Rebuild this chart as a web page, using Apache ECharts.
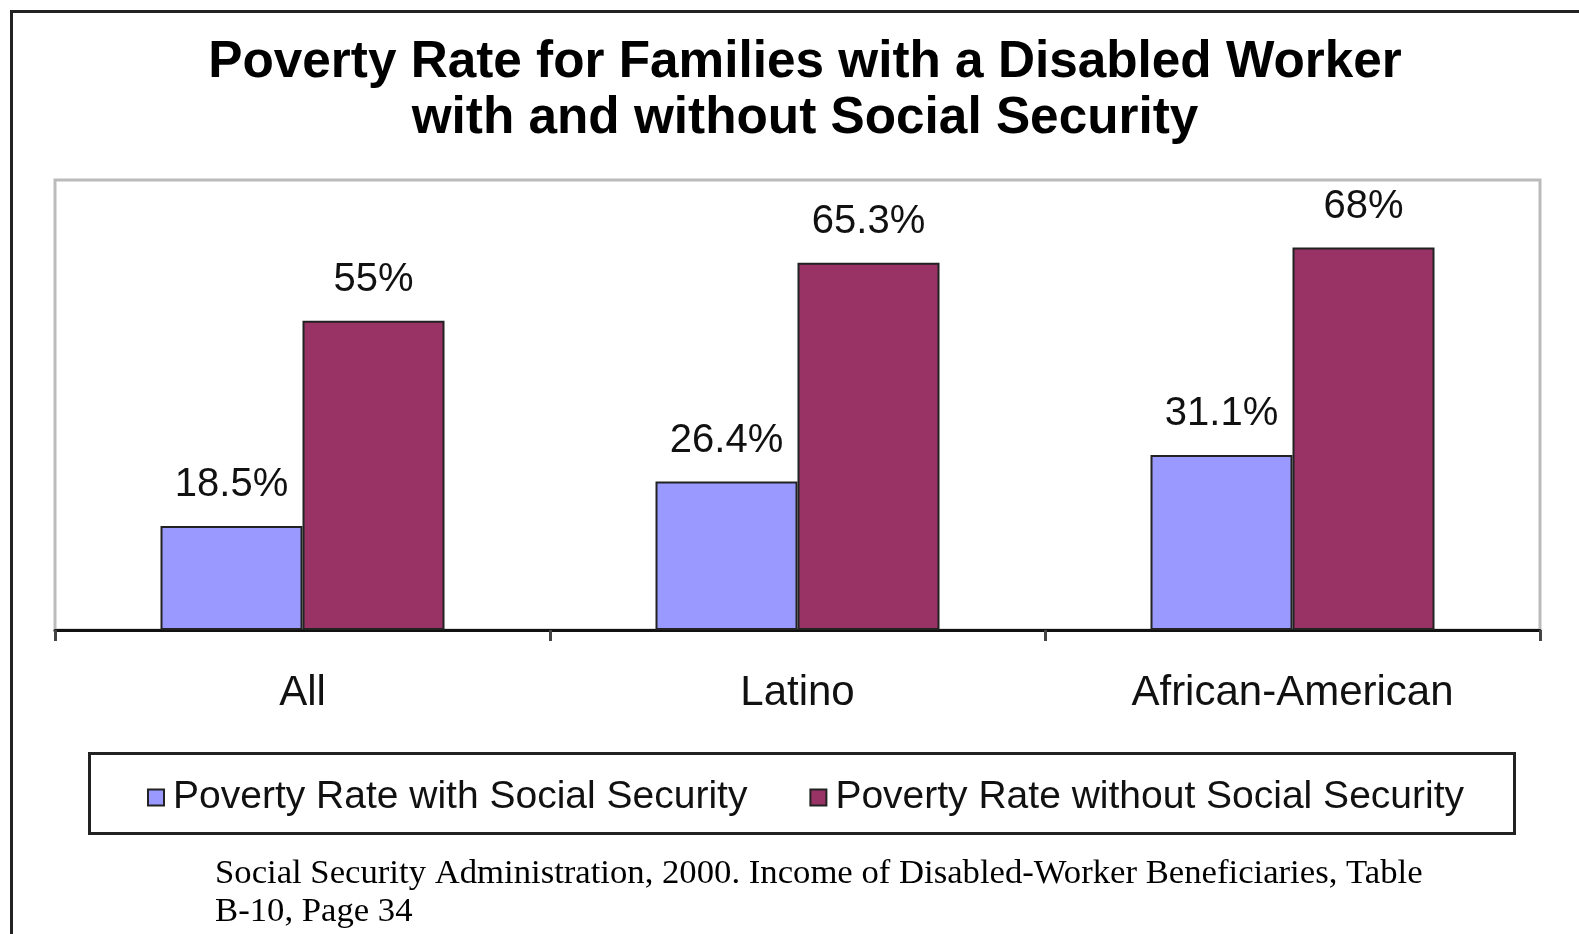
<!DOCTYPE html>
<html><head><meta charset="utf-8">
<script src="https://cdn.jsdelivr.net/npm/echarts@6/dist/echarts.min.js"></script>
<style>html,body{margin:0;padding:0;background:#fff}#c{width:1579px;height:934px}</style>
</head><body><div id="c"></div>
<script>
const categories = ['All', 'Latino', 'African-American'];
const withSS = [18.5, 26.4, 31.1];
const withoutSS = [55, 65.3, 68];
const seriesNames = ['Poverty Rate with Social Security', 'Poverty Rate without Social Security'];
const titleText = 'Poverty Rate for Families with a Disabled Worker\nwith and without Social Security';
const sourceText = 'Social Security Administration, 2000. Income of Disabled-Worker Beneficiaries, Table\nB-10, Page 34';

const chart = echarts.init(document.getElementById('c'));
const font = "'Liberation Sans', Arial, sans-serif";
const labelCfg = {show: true, position: 'top', distance: 21, formatter: '{c}%', fontSize: 40, color: '#111', fontFamily: font};
chart.setOption({
  animation: false,
  backgroundColor: '#fff',
  title: [{
    text: titleText, left: 805, top: 35, padding: 0, textAlign: 'center',
    textStyle: {fontSize: 51.3, fontWeight: 'bold', fontFamily: font, color: '#000', lineHeight: 56}
  }, {
    text: sourceText, left: 215, top: 855, padding: 0,
    textStyle: {fontSize: 34.7, fontWeight: 'normal', fontFamily: "'Liberation Serif', 'Times New Roman', serif", color: '#000', lineHeight: 38}
  }],
  graphic: [
    {type: 'rect', shape: {x: 11.5, y: 11.5, width: 1700, height: 1000}, style: {fill: null, stroke: '#222', lineWidth: 3}, z: -1},
    {type: 'rect', shape: {x: 89.5, y: 753.5, width: 1425, height: 80}, style: {fill: '#fff', stroke: '#222', lineWidth: 3}, z: -1}
  ],
  legend: {
    data: seriesNames, left: 142, top: 773, itemWidth: 16, itemHeight: 16, itemGap: 62,
    textStyle: {fontSize: 39, fontFamily: font, color: '#111', padding: [0, 0, 0, 4]},
    icon: 'rect'
  },
  grid: {left: 55, right: 39, top: 180, bottom: 304, show: true, borderColor: '#bbb', borderWidth: 3, backgroundColor: '#fff'},
  xAxis: {
    type: 'category', data: categories,
    axisLine: {lineStyle: {color: '#111', width: 3}},
    axisTick: {show: true, length: 11, lineStyle: {color: '#444', width: 3}},
    axisLabel: {fontSize: 42, fontFamily: font, color: '#111', margin: 42}
  },
  yAxis: {type: 'value', min: 0, max: 80, show: false, splitLine: {show: false}},
  series: [
    {name: seriesNames[0], type: 'bar', data: withSS, barWidth: 142, barGap: '0%',
     itemStyle: {color: '#9999FF', borderColor: '#222', borderWidth: 2}, label: labelCfg},
    {name: seriesNames[1], type: 'bar', data: withoutSS, barWidth: 142, barGap: '0%',
     itemStyle: {color: '#993366', borderColor: '#222', borderWidth: 2}, label: labelCfg}
  ]
});
</script></body></html>
